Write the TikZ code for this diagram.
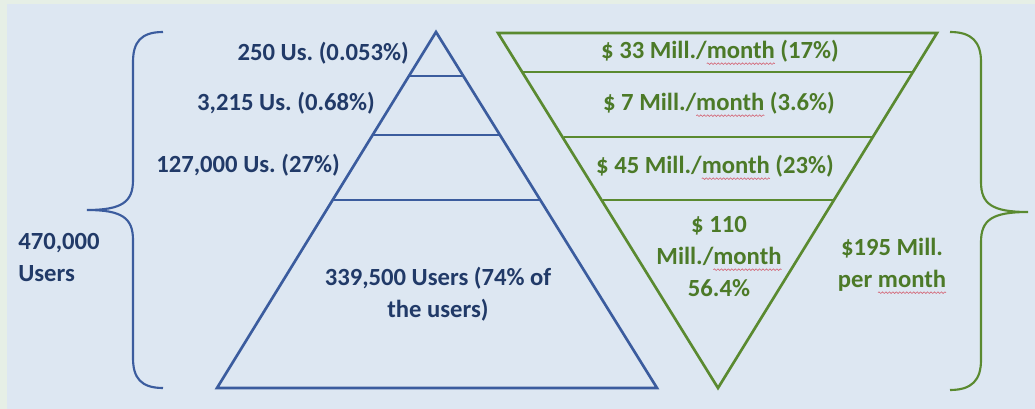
\documentclass[tikz,border=0pt]{standalone}
\usepackage{fontspec}
\setmainfont{Carlito}
\frenchspacing
\usetikzlibrary{decorations.pathmorphing}
\definecolor{bgblue}{HTML}{DDE7F2}
\definecolor{bgedge}{HTML}{E6EFE6}
\definecolor{pyrblue}{HTML}{3B5C9E}
\definecolor{txtblue}{HTML}{213A68}
\definecolor{pyrgreen}{HTML}{5A8A30}
\definecolor{txtgreen}{HTML}{4C7A28}
\definecolor{splred}{HTML}{D46A7A}
\newsavebox{\splbox}
\newcommand{\spl}[1]{\sbox{\splbox}{#1}\rlap{\usebox{\splbox}}\tikz[baseline=0pt]{\path[use as bounding box] (0pt,0pt) rectangle (\wd\splbox,1pt);\draw[splred, line width=0.5pt, decorate, decoration={snake, amplitude=0.6pt, segment length=2.6pt}] (0pt,-3.5pt) -- (\wd\splbox,-3.5pt);}}
\tikzset{
  blueline/.style={draw=pyrblue, line width=2pt, line join=miter},
  greenline/.style={draw=pyrgreen, line width=2pt, line join=miter},
  bluebrace/.style={draw=pyrblue, line width=1.6pt},
  greenbrace/.style={draw=pyrgreen, line width=1.6pt},
  bluetxt/.style={text=txtblue, font=\fontsize{18.5}{24}\selectfont\bfseries, inner sep=0pt},
  greentxt/.style={text=txtgreen, font=\fontsize{18.5}{24}\selectfont\bfseries, inner sep=0pt},
}
\begin{document}
\begin{tikzpicture}[x=0.75pt,y=-0.75pt]
\fill[bgedge] (0,0) rectangle (1035,409);
\fill[bgblue] (7,4) rectangle (1035,409);
\useasboundingbox (0,0) rectangle (1035,409);

% blue pyramid
\coordinate (bA) at (436,32);
\coordinate (bL) at (217,388);
\coordinate (bR) at (657,388);
\draw[blueline] (bA) -- (bR) -- (bL) -- cycle;
\coordinate (b1l) at (410,76); \coordinate (b1r) at (462,76);
\coordinate (b2l) at (373,135); \coordinate (b2r) at (499,135);
\coordinate (b3l) at (333,200); \coordinate (b3r) at (539,200);
\draw[blueline] (b1l) -- (b1r);
\draw[blueline] (b2l) -- (b2r);
\draw[blueline] (b3l) -- (b3r);

% green inverted pyramid
\coordinate (gL) at (498,33);
\coordinate (gR) at (937,33);
\coordinate (gA) at (718,388);
\draw[greenline] (gL) -- (gR) -- (gA) -- cycle;
\coordinate (g1l) at (523,72); \coordinate (g1r) at (913,72);
\coordinate (g2l) at (564,137); \coordinate (g2r) at (872,137);
\coordinate (g3l) at (603,200); \coordinate (g3r) at (834,200);
\draw[greenline] (g1l) -- (g1r);
\draw[greenline] (g2l) -- (g2r);
\draw[greenline] (g3l) -- (g3r);

% left brace
\coordinate (lbT) at (163,32);
\coordinate (lbM) at (87,210);
\coordinate (lbB) at (163,388);
\draw[bluebrace] (lbT) .. controls (141,32) and (133,42) .. (133,62)
  -- (133,180) .. controls (133,202) and (122,210) .. (lbM)
  .. controls (122,210) and (133,218) .. (133,240)
  -- (133,358) .. controls (133,378) and (141,388) .. (lbB);

% right brace
\coordinate (rbT) at (950,32);
\coordinate (rbM) at (1028,212);
\coordinate (rbB) at (950,390);
\draw[greenbrace] (rbT) .. controls (972,32) and (981,42) .. (981,62)
  -- (981,182) .. controls (981,204) and (992,212) .. (rbM)
  .. controls (992,212) and (981,220) .. (981,242)
  -- (981,360) .. controls (981,380) and (972,390) .. (rbB);

% blue labels
\node[bluetxt, anchor=base east] (t1) at (409,61) {250 Us. (0.053\%)};
\node[bluetxt, anchor=base east] (t2) at (375,111) {3,215 Us. (0.68\%)};
\node[bluetxt, anchor=base east] (t3) at (340,173) {127,000 Us. (27\%)};
\node[bluetxt, anchor=base west, align=left] (tot) at (18,282) {470,000\\Users};
\node[bluetxt, anchor=base, align=center] (t4) at (438,318) {339,500 Users (74\% of\\the users)};

% green labels
\node[greentxt, anchor=base] (m1) at (720,59) {\$ 33 Mill./\spl{month} (17\%)};
\node[greentxt, anchor=base] (m2) at (719,111) {\$ 7 Mill./\spl{month} (3.6\%)};
\node[greentxt, anchor=base] (m3) at (715,174) {\$ 45 Mill./\spl{month} (23\%)};
\node[greentxt, anchor=base, align=center] (m4) at (719,297) {\$ 110\\Mill./\spl{month}\\56.4\%};
\node[greentxt, anchor=base, align=center] (mt) at (892,288) {\$195 Mill.\\per \spl{month}};
\end{tikzpicture}
\end{document}
